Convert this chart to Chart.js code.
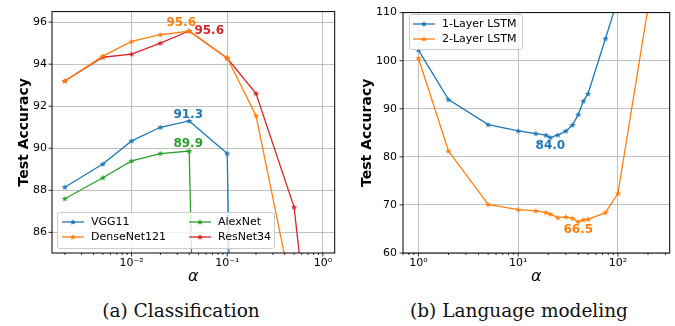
<!DOCTYPE html>
<html>
<head>
<meta charset="utf-8">
<script src="https://cdn.jsdelivr.net/npm/chart.js@4.4.1/dist/chart.umd.min.js"></script>
<style>
  body { margin: 0; background: #fff; }
  #wrap { position: relative; width: 675px; height: 326px; }
  canvas { position: absolute; top: 0; }
  #left { left: 0; }
  #right { left: 340px; }
  .cap { position: absolute; top: 300px; font-family: "DejaVu Serif"; font-size: 18.5px; white-space: nowrap; transform: translateX(-50%); color: #111; }
</style>
</head>
<body>
<div id="wrap">
  <canvas id="left" width="340" height="290"></canvas>
  <canvas id="right" width="335" height="290"></canvas>
  <div class="cap" style="left:181px">(a) Classification</div>
  <div class="cap" style="left:519px">(b) Language modeling</div>
</div>
<script>
// --- (a) classification: test accuracy vs alpha
const alphaCls = [0.002, 0.005, 0.01, 0.02, 0.04, 0.1, 0.2, 0.5, 1.0];
const vgg11 = [88.15, 89.25, 90.35, 91.0, 91.3, 89.75, 10, null, null];
const densenet121 = [93.2, 94.38, 95.08, 95.4, 95.57, 94.3, 91.55, 82.7, null];
const alexnet = [87.6, 88.6, 89.4, 89.75, 89.87, 10, null, null, null];
const resnet34 = [93.2, 94.33, 94.48, 95.0, 95.58, 94.28, 92.6, 87.2, 75.0];
const clsYTicks = [86, 88, 90, 92, 94, 96];
const clsXTicks = [0.01, 0.1, 1];
const clsXLabels = ["10\u207B\u00B2", "10\u207B\u00B9", "10\u2070"];

// --- (b) language modeling
const alphaLm = [1, 2, 5, 10, 15, 19, 21, 25, 30, 35, 40, 45, 50, 75, 100, 200];
const lstm1 = [102.2, 91.9, 86.7, 85.4, 84.85, 84.5, 84.0, 84.55, 85.35, 86.6, 88.8, 91.6, 93.1, 104.6, 113, null];
const lstm2 = [100.5, 81.2, 70.1, 69.0, 68.75, 68.4, 68.1, 67.35, 67.5, 67.2, 66.5, 66.9, 67.0, 68.4, 72.4, 111];
const lmYTicks = [60, 70, 80, 90, 100, 110];
const lmXTicks = [1, 10, 100];
const lmXLabels = ["10\u2070", "10\u00B9", "10\u00B2"];

const BLUE = "#1f77b4", ORANGE = "#ff7f0e", GREEN = "#2ca02c", RED = "#d62728";
const FONT = "DejaVu Sans";

// small filled 5-point star, like matplotlib's '*'
function starImg(color) {
  const c = document.createElement("canvas");
  c.width = 8; c.height = 8;
  const g = c.getContext("2d");
  g.fillStyle = color;
  g.beginPath();
  for (let i = 0; i < 10; i++) {
    const r = i % 2 ? 1.4 : 3.3;
    const a = -Math.PI / 2 + i * Math.PI / 5;
    g.lineTo(4 + r * Math.cos(a), 4.2 + r * Math.sin(a));
  }
  g.closePath();
  g.fill();
  return c;
}

function pts(xs, ys) {
  return xs.map((x, i) => ({ x: x, y: ys[i] })).filter(p => p.y !== null);
}

function series(label, xs, ys, color, note) {
  return {
    label: label,
    data: pts(xs, ys),
    borderColor: color,
    backgroundColor: color,
    borderWidth: 1.3,
    pointStyle: starImg(color),
    pointRadius: 4,
    tension: 0,
    clip: 0,
    note: note
  };
}

function minorTicks(e0, e1) {
  const out = [];
  for (let e = e0; e <= e1; e++)
    for (let m = 2; m <= 9; m++) out.push(m * Math.pow(10, e));
  return out;
}

// frame, annotations and legend drawn on top of the lines
const extras = {
  id: "extras",
  afterDatasetsDraw(chart, args, opts) {
    const { ctx, chartArea: a, scales: { x, y } } = chart;
    ctx.save();

    // best-value labels
    chart.data.datasets.forEach(ds => {
      if (!ds.note) return;
      const vals = ds.data.map(p => p.y);
      const best = ds.note.pick === "min" ? Math.min(...vals) : Math.max(...vals);
      const p = ds.data[vals.indexOf(best)];
      ctx.font = "bold 12px " + FONT;
      ctx.fillStyle = ds.borderColor;
      ctx.textAlign = "center";
      ctx.textBaseline = "middle";
      ctx.fillText(best.toFixed(1), x.getPixelForValue(p.x) + ds.note.dx, y.getPixelForValue(p.y) + ds.note.dy);
    });

    // legend
    const L = opts.legend;
    ctx.beginPath();
    ctx.roundRect(L.x + 0.5, L.y + 0.5, L.w, L.h, 2);
    ctx.fillStyle = "rgba(255,255,255,0.8)";
    ctx.fill();
    ctx.strokeStyle = "#cccccc";
    ctx.lineWidth = 1;
    ctx.stroke();
    L.entries.forEach(e => {
      const ds = chart.data.datasets[e.ds];
      ctx.strokeStyle = ds.borderColor;
      ctx.lineWidth = 1.3;
      ctx.beginPath();
      ctx.moveTo(e.x, e.y);
      ctx.lineTo(e.x + 22, e.y);
      ctx.stroke();
      const img = ds.pointStyle;
      ctx.drawImage(img, e.x + 11 - img.width / 2, e.y - img.height / 2);
      ctx.font = "11px " + FONT;
      ctx.fillStyle = "#000";
      ctx.textAlign = "left";
      ctx.textBaseline = "middle";
      ctx.fillText(ds.label, e.x + 29, e.y + 0.5);
    });

    // axes frame
    ctx.strokeStyle = "#000";
    ctx.lineWidth = 1;
    ctx.strokeRect(a.left, a.top, a.right - a.left, a.bottom - a.top);

    // tick marks (major 3.5px, minor 2px)
    ctx.lineWidth = 0.8;
    ctx.beginPath();
    const tx = (v, len) => {
      const px = x.getPixelForValue(v);
      if (px < a.left - 0.5 || px > a.right + 0.5) return;
      ctx.moveTo(px, a.bottom);
      ctx.lineTo(px, a.bottom + len);
    };
    opts.xMajor.forEach(v => tx(v, 3.5));
    opts.xMinor.forEach(v => tx(v, 2));
    opts.yMajor.forEach(v => {
      const py = y.getPixelForValue(v);
      ctx.moveTo(a.left, py);
      ctx.lineTo(a.left - 3.5, py);
    });
    ctx.stroke();
    ctx.restore();
  }
};

function axes(cfg) {
  const grid = { color: "#b0b0b0", lineWidth: 0.8, drawTicks: false };
  return {
    x: {
      type: "logarithmic",
      min: cfg.xMin, max: cfg.xMax,
      afterBuildTicks: s => { s.ticks = cfg.xTicks.map(v => ({ value: v })); },
      ticks: {
        callback: (v, i) => cfg.xLabels[i],
        font: { family: FONT, size: 11 }, color: "#000",
        padding: 4, maxRotation: 0, autoSkip: false
      },
      grid: grid,
      border: { display: false },
      title: {
        display: true, text: "\u03B1", color: "#000",
        font: { family: FONT, size: 16, style: "italic" },
        padding: { top: 0, bottom: 4 }
      },
      afterFit: s => { s.height = 37; }
    },
    y: {
      min: cfg.yMin, max: cfg.yMax,
      afterBuildTicks: s => { s.ticks = cfg.yTicks.map(v => ({ value: v })); },
      ticks: { font: { family: FONT, size: 11 }, color: "#000", padding: cfg.yPad },
      grid: grid,
      border: { display: false },
      title: {
        display: true, text: "Test Accuracy", color: "#000",
        font: { family: FONT, size: 14, weight: "bold" },
        padding: { top: cfg.titlePad, bottom: 0 }
      },
      afterFit: s => { s.width = cfg.yWidth; }
    }
  };
}

const common = {
  responsive: false,
  animation: false,
  events: [],
  plugins: { legend: { display: false }, tooltip: { enabled: false } }
};

new Chart(document.getElementById("left"), {
  type: "line",
  data: {
    datasets: [
      series("VGG11", alphaCls, vgg11, BLUE, { pick: "max", dx: -1, dy: -6 }),
      series("DenseNet121", alphaCls, densenet121, ORANGE, { pick: "max", dx: -8, dy: -8 }),
      series("AlexNet", alphaCls, alexnet, GREEN, { pick: "max", dx: -1, dy: -7 }),
      series("ResNet34", alphaCls, resnet34, RED, { pick: "max", dx: 20, dy: 0 })
    ]
  },
  options: Object.assign({}, common, {
    layout: { padding: { left: 0, right: 5, top: 11, bottom: 0 } },
    scales: axes({
      xMin: 0.00147, xMax: 1.33, xTicks: clsXTicks, xLabels: clsXLabels,
      yMin: 85.02, yMax: 96.5, yTicks: clsYTicks, yPad: 5, yWidth: 52, titlePad: 15.6
    }),
    plugins: Object.assign({}, common.plugins, {
      extras: {
        xMajor: clsXTicks, xMinor: minorTicks(-3, -1), yMajor: clsYTicks,
        legend: {
          x: 57, y: 212, w: 217, h: 36,
          entries: [{ ds: 0, x: 62, y: 222 }, { ds: 1, x: 62, y: 237 },
                    { ds: 2, x: 189, y: 222 }, { ds: 3, x: 189, y: 237 }]
        }
      }
    })
  }),
  plugins: [extras]
});

new Chart(document.getElementById("right"), {
  type: "line",
  data: {
    datasets: [
      series("1-Layer LSTM", alphaLm, lstm1, BLUE, { pick: "min", dx: 0, dy: 8 }),
      series("2-Layer LSTM", alphaLm, lstm2, ORANGE, { pick: "min", dx: 0, dy: 8 })
    ]
  },
  options: Object.assign({}, common, {
    layout: { padding: { left: 0, right: 3, top: 8, bottom: 0 } },
    scales: axes({
      xMin: 0.745, xMax: 330, xTicks: lmXTicks, xLabels: lmXLabels,
      yMin: 60, yMax: 110, yTicks: lmYTicks, yPad: 6, yWidth: 63, titlePad: 18.6
    }),
    plugins: Object.assign({}, common.plugins, {
      extras: {
        xMajor: lmXTicks, xMinor: minorTicks(-1, 2), yMajor: lmYTicks,
        legend: {
          x: 69, y: 14, w: 113, h: 35,
          entries: [{ ds: 0, x: 73, y: 24 }, { ds: 1, x: 73, y: 39 }]
        }
      }
    })
  }),
  plugins: [extras]
});
</script>
</body>
</html>
